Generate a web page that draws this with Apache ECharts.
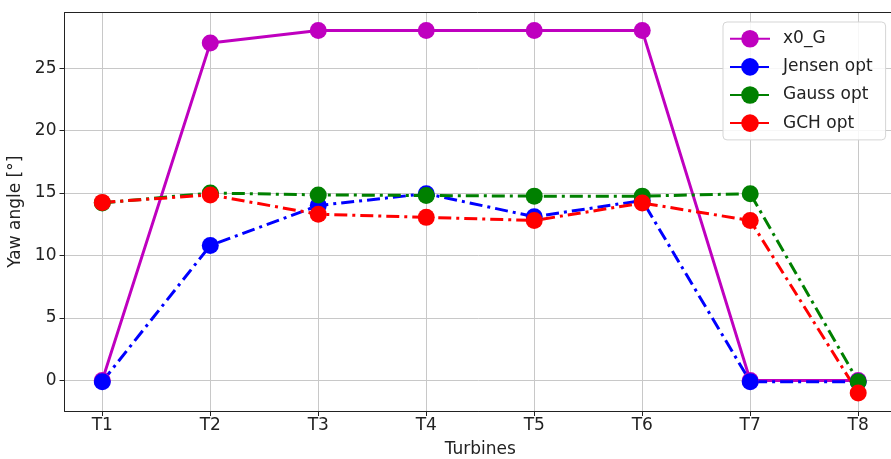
<!DOCTYPE html>
<html>
<head>
<meta charset="utf-8">
<script src="https://cdn.jsdelivr.net/npm/echarts@6/dist/echarts.min.js"></script>
<style>
  html, body { margin: 0; padding: 0; background: #fff; }
  #chart { width: 891px; height: 459px; }
</style>
</head>
<body>
<div id="chart"></div>
<script>
// Turbine labels along the x axis
const turbines = ['T1', 'T2', 'T3', 'T4', 'T5', 'T6', 'T7', 'T8'];

// Yaw angles per turbine (degrees)
const x0G       = [0, 27.0, 28.0, 28.0, 28.0, 28.0, 0, 0];
const jensenOpt = [-0.1, 10.8, 14.0, 14.95, 13.1, 14.4, -0.1, -0.1];
const gaussOpt  = [14.2, 15.0, 14.85, 14.8, 14.75, 14.75, 14.95, -0.1];
const gchOpt    = [14.25, 14.85, 13.3, 13.05, 12.8, 14.2, 12.8, -1.0];

// Y tick values
const yTicks = [0, 5, 10, 15, 20, 25];

const font = 'DejaVu Sans';
const dashDot = [13, 5, 3, 5];
const xTickValues = turbines.map((t, i) => i + 1);

function pairs(values) {
  return values.map((v, i) => [i + 1, v]);
}

function lineSeries(name, values, color, dashed) {
  return {
    name: name,
    type: 'line',
    data: pairs(values),
    symbol: 'circle',
    symbolSize: 17,
    itemStyle: { color: color },
    lineStyle: { color: color, width: 3, type: dashed ? dashDot : 'solid' },
    emphasis: { disabled: true }
  };
}

const spine = { show: true, onZero: false, lineStyle: { color: '#222', width: 1 } };
const gridLine = { show: true, lineStyle: { color: '#c8c8c8', width: 1 } };

const chart = echarts.init(document.getElementById('chart'), null, { renderer: 'canvas' });
chart.setOption({
  animation: false,
  backgroundColor: '#ffffff',
  grid: {
    left: 64.5, top: 12.5, width: 831.5, bottom: 48,
    outerBoundsMode: 'none',
    containLabel: false,
    show: false
  },
  // top frame edge of the plot area
  graphic: [{
    type: 'line',
    z: 10,
    shape: { x1: 64.5, y1: 12.5, x2: 891, y2: 12.5 },
    style: { stroke: '#222', lineWidth: 1 }
  }],
  legend: {
    orient: 'vertical',
    left: 723, top: 22,
    padding: [8, 13, 8, 6],
    itemWidth: 40, itemHeight: 22, itemGap: 10.5,
    backgroundColor: 'rgba(255,255,255,0.85)',
    borderColor: '#d5d5d5', borderWidth: 1, borderRadius: 4,
    textStyle: { fontFamily: font, fontSize: 17, color: '#222', padding: [0, 0, 0, 8] },
    data: ['x0_G', 'Jensen opt', 'Gauss opt', 'GCH opt']
  },
  xAxis: {
    type: 'value',
    min: 0.65, max: 8.35,
    name: 'Turbines',
    nameLocation: 'middle',
    nameGap: 30,
    nameTextStyle: { fontFamily: font, fontSize: 17, color: '#222' },
    axisLine: spine,
    axisTick: { show: true, length: 5, lineStyle: { color: '#222' }, customValues: xTickValues },
    axisLabel: {
      customValues: xTickValues,
      formatter: v => turbines[Math.round(v) - 1],
      fontFamily: font, fontSize: 17, color: '#222', margin: 6
    },
    splitLine: gridLine
  },
  yAxis: {
    type: 'value',
    min: -2.45, max: 29.45,
    name: 'Yaw angle [°]',
    nameLocation: 'middle',
    nameGap: 32,
    nameTextStyle: { fontFamily: font, fontSize: 17, color: '#222' },
    axisLine: spine,
    axisTick: { show: true, length: 5, lineStyle: { color: '#222' }, customValues: yTicks },
    axisLabel: { customValues: yTicks, fontFamily: font, fontSize: 17, color: '#222', margin: 8 },
    splitLine: gridLine
  },
  series: [
    lineSeries('x0_G', x0G, '#bf00bf', false),
    lineSeries('Jensen opt', jensenOpt, '#0000ff', true),
    lineSeries('Gauss opt', gaussOpt, '#008000', true),
    lineSeries('GCH opt', gchOpt, '#ff0000', true)
  ]
});
</script>
</body>
</html>
